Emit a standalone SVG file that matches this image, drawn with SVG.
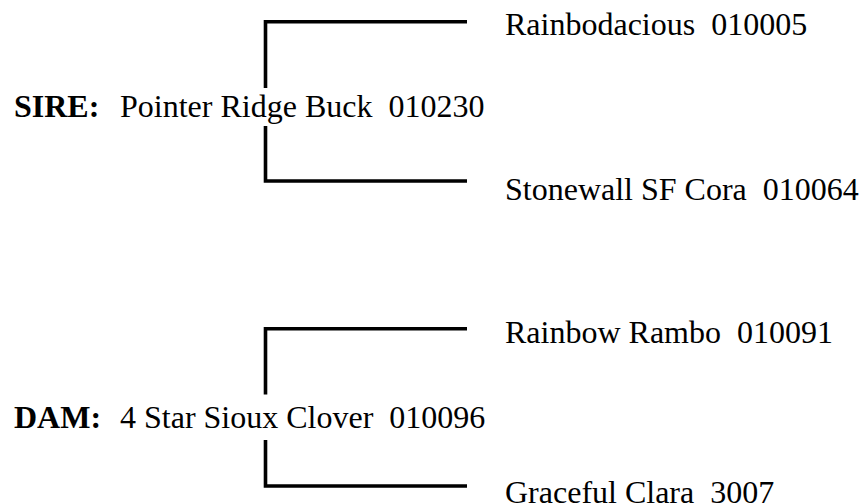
<svg xmlns="http://www.w3.org/2000/svg" width="863" height="504" viewBox="0 0 863 504">
  <style>
    .t { font-family: "Liberation Serif", "Times New Roman", serif; font-size: 32px; fill: #000; }
    .b { font-weight: bold; }
    .c { fill: none; stroke: #000; stroke-width: 3.6; stroke-linejoin: miter; stroke-linecap: butt; }
  </style>
  <rect width="863" height="504" fill="#fff"/>
  <g id="connectors">
    <polyline class="c" points="467,21.7 265.5,21.7 265.5,88"/>
    <polyline class="c" points="265.5,126 265.5,181 467,181"/>
    <polyline class="c" points="467,328.7 265.5,328.7 265.5,394.5"/>
    <polyline class="c" points="265.5,440 265.5,486 467,486"/>
  </g>
  <g id="sire">
    <text class="t b" x="14" y="117">SIRE:</text>
    <text class="t" x="120" y="117" xml:space="preserve">Pointer Ridge Buck  010230</text>
  </g>
  <g id="sire-sire">
    <text class="t" x="505" y="35" xml:space="preserve">Rainbodacious  010005</text>
  </g>
  <g id="sire-dam">
    <text class="t" x="505" y="200" xml:space="preserve">Stonewall SF Cora  010064</text>
  </g>
  <g id="dam">
    <text class="t b" x="14" y="428">DAM:</text>
    <text class="t" x="120" y="428" xml:space="preserve">4 Star Sioux Clover  010096</text>
  </g>
  <g id="dam-sire">
    <text class="t" x="505" y="342.5" xml:space="preserve">Rainbow Rambo  010091</text>
  </g>
  <g id="dam-dam">
    <text class="t" x="505" y="503" xml:space="preserve">Graceful Clara  3007</text>
  </g>
</svg>
